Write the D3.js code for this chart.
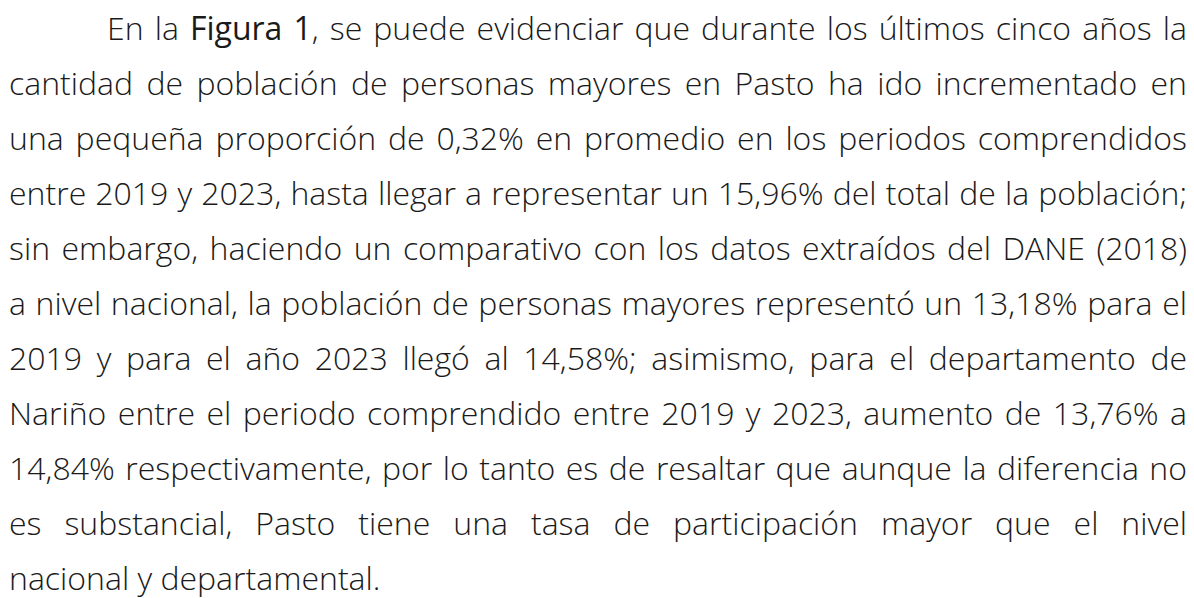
<!DOCTYPE html>
<html>
<head>
<meta charset="utf-8">
<script src="https://cdn.jsdelivr.net/npm/d3@7"></script>
<style>
  html, body { margin: 0; padding: 0; background: #ffffff; }
  svg { display: block; }
</style>
</head>
<body>
<svg id="chart" width="1194" height="598"></svg>
<script>
// Paragraph lines as they break in the reference; *...* marks bold runs
const lineTexts = [
  "En la *Figura* *1*, se puede evidenciar que durante los últimos cinco años la",
  "cantidad de población de personas mayores en Pasto ha ido incrementado en",
  "una pequeña proporción de 0,32% en promedio en los periodos comprendidos",
  "entre 2019 y 2023, hasta llegar a representar un 15,96% del total de la población;",
  "sin embargo, haciendo un comparativo con los datos extraídos del DANE (2018)",
  "a nivel nacional, la población de personas mayores representó un 13,18% para el",
  "2019 y para el año 2023 llegó al 14,58%; asimismo, para el departamento de",
  "Nariño entre el periodo comprendido entre 2019 y 2023, aumento de 13,76% a",
  "14,84% respectivamente, por lo tanto es de resaltar que aunque la diferencia no",
  "es substancial, Pasto tiene una tasa de participación mayor que el nivel",
  "nacional y departamental."
];
const firstLineIndent = lineTexts.map((d, i) => i === 0);
const justifyFlags = lineTexts.map((d, i) => i < lineTexts.length - 1);

const W = 1194, H = 598;
const left = 9, right = 1187, indentX = 107;
const fontFamily = "'Open Sans', Lato, sans-serif";
const regularWeight = 300, boldWeight = 500;
const textColor = "#1a1a1a";

const svg = d3.select("#chart");

const y = d3.scaleLinear()
  .domain([0, lineTexts.length - 1])
  .range([40, 590]);

function parseWord(w) {
  const runs = [];
  w.split("*").forEach((p, k) => { if (p.length) runs.push({ t: p, bold: k % 2 === 1 }); });
  return runs;
}

const lines = lineTexts.map((txt, i) => ({
  i,
  words: txt.split(" ").map(parseWord),
  start: firstLineIndent[i] ? indentX : left,
  justify: justifyFlags[i]
}));

const meas = svg.append("g").attr("opacity", 0);
function wordWidth(runs, size) {
  const t = meas.append("text").attr("font-family", fontFamily).attr("font-size", size);
  runs.forEach(r => t.append("tspan").attr("font-weight", r.bold ? boldWeight : regularWeight).text(r.t));
  const w = t.node().getComputedTextLength();
  t.remove();
  return w;
}

// choose font size so the tightest line fits with natural spacing
const baseSize = 30;
let fit = Infinity;
lines.forEach(l => {
  if (!l.justify) return;
  const ws = d3.sum(l.words, w => wordWidth(w, baseSize));
  const sp = wordWidth([{ t: "\u00a0", bold: false }], baseSize);
  const nat = ws + sp * (l.words.length - 1);
  fit = Math.min(fit, baseSize * (right - l.start) / nat);
});
const fontSize = Math.min(fit, 32);
const spaceW = wordWidth([{ t: "\u00a0", bold: false }], fontSize);

const g = svg.append("g");
lines.forEach(l => {
  const widths = l.words.map(w => wordWidth(w, fontSize));
  const total = d3.sum(widths);
  const gap = l.justify && l.words.length > 1
    ? (right - l.start - total) / (l.words.length - 1)
    : spaceW;
  let x = l.start;
  l.words.forEach((w, k) => {
    const t = g.append("text")
      .attr("x", x)
      .attr("y", y(l.i))
      .attr("font-family", fontFamily)
      .attr("font-size", fontSize)
      .attr("fill", textColor);
    w.forEach(r => t.append("tspan").attr("font-weight", r.bold ? boldWeight : regularWeight).text(r.t));
    x += widths[k] + gap;
  });
});
meas.remove();
</script>
</body>
</html>
